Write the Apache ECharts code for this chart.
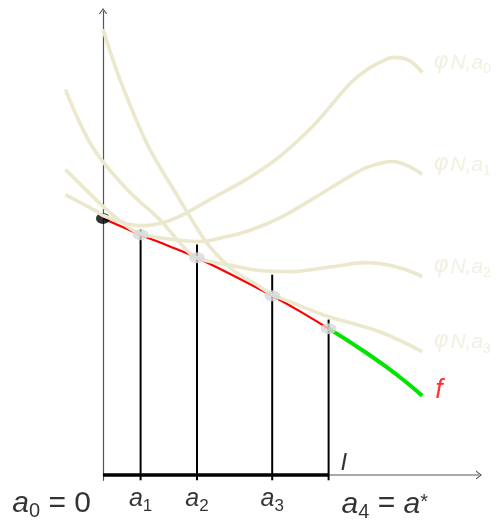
<!DOCTYPE html>
<html>
<head>
<meta charset="utf-8">
<script src="https://cdn.jsdelivr.net/npm/echarts@6.0.0/dist/echarts.min.js"></script>
<style>
html,body{margin:0;padding:0;background:#ffffff;}
#chart{width:500px;height:520px;}
</style>
</head>
<body>
<div id="chart"></div>
<script>
// ---------- values ----------
const aValues = [0, 1, 2.5, 4.5, 6];            // a0 .. a4 on the x axis
const fAtA = [6.80, 6.37, 5.76, 4.75, 3.88];     // f(a_k)
const verticalTops = [6.51, 6.11, 5.31, 4.12];   // top of the vertical at a1..a4
const tickLow = -0.14;                           // small tick below the axis
const xAxisEnd = 10;                             // where the x axis arrow sits

const fOnI = [[0,6.80],[1,6.37],[1.75,6.07],[2.5,5.76],[3.5,5.27],[4.5,4.75],[5.25,4.33],[6,3.88]];
const fBeyond = [[6,3.88],[6.5,3.57],[7,3.24],[7.5,2.89],[8,2.51],[8.49,2.10]];

const phiA0 = [[-1,7.43],[-0.16,6.98],[0,6.88],[0.64,6.66],[0.98,6.61],[1.38,6.64],[1.96,6.82],[2.84,7.30],[3.90,7.89],[4.77,8.50],[5.68,9.35],[6.55,10.36],[7.00,10.73],[7.43,10.97],[7.72,11.07],[8.14,10.99],[8.49,10.67]];
const phiA1 = [[-1,8.10],[-0.27,7.38],[0,7.12],[0.64,6.59],[0.98,6.40],[1.51,6.29],[2.57,6.19],[3.29,6.32],[3.90,6.48],[4.77,6.85],[5.68,7.38],[6.55,7.91],[7.00,8.15],[7.43,8.28],[7.72,8.31],[8.14,8.18],[8.49,7.97]];
const phiA2 = [[-1,10.22],[-0.27,8.68],[0.64,7.57],[1.51,6.77],[2.04,6.16],[2.49,5.76],[3.45,5.55],[4.16,5.42],[4.96,5.39],[6.10,5.52],[7.00,5.63],[7.53,5.58],[8.06,5.44],[8.49,5.26]];
const phiA3 = [[0,11.82],[0.45,10.49],[1.19,8.74],[1.96,7.43],[2.44,6.64],[2.84,6.05],[3.45,5.44],[4.08,5.05],[4.51,4.78],[5.23,4.49],[5.99,4.20],[6.55,4.04],[7.43,3.77],[8.49,3.27]];

const phiSubs = ['0', '1', '2', '3'];
const tickTexts = [
  '{ab|a}{sb|0}{mb| = 0}',
  '{as|a}{ss|1}',
  '{as|a}{ss|2}',
  '{as|a}{ss|3}',
  '{ab|a}{sb|4}{mb| = }{ab|a}{st|*}'
];
const intervalText = '{I|I}';
const fText = '{f|f}';

// ---------- styles ----------
const FONT = "'Liberation Sans', Arial, Helvetica, sans-serif";
const BEIGE = '#ece8ce';
const BEIGE_TEXT = '#efecda';
const AXIS = '#555555';
const RICH = {
  ab:{fontSize:30, fontStyle:'italic', fontFamily:FONT, color:'#000'},
  sb:{fontSize:20, fontFamily:FONT, color:'#000', padding:[16,0,0,0]},
  mb:{fontSize:30, fontFamily:FONT, color:'#000'},
  st:{fontSize:20, fontFamily:FONT, color:'#000', padding:[0,0,4,0]},
  as:{fontSize:25, fontStyle:'italic', fontFamily:FONT, color:'#000'},
  ss:{fontSize:17, fontFamily:FONT, color:'#000', padding:[15,0,0,0]},
  p:{fontSize:23, fontStyle:'italic', fontFamily:"'DejaVu Sans', sans-serif", color:BEIGE_TEXT, padding:[0,2,3,0]},
  n:{fontSize:21, fontStyle:'italic', fontFamily:FONT, color:BEIGE_TEXT},
  s:{fontSize:14, fontFamily:FONT, color:BEIGE_TEXT, padding:[12,0,0,0]},
  I:{fontSize:24, fontStyle:'italic', fontFamily:FONT, color:'#000'},
  f:{fontSize:27, fontStyle:'italic', fontFamily:FONT, color:'#ff0000'}
};
const CHEVRON = 'path://M5,0L10,7L8.5,7L5,2.1L1.5,7L0,7Z';

const series = [];

// x axis (from a0 to the arrow)
series.push({
  type:'line', silent:true, clip:false, z:1, symbol:'none', showSymbol:true,
  lineStyle:{color:AXIS, width:1.2}, itemStyle:{color:AXIS},
  data:[[aValues[0], 0], {value:[xAxisEnd, 0], symbol:CHEVRON, symbolSize:[9,6], symbolRotate:-90}]
});
// verticals a1..a4
aValues.slice(1).forEach((a, i) => {
  series.push({
    type:'line', data:[[a, tickLow], [a, verticalTops[i]]], symbol:'none', silent:true,
    clip:false, z:2, lineStyle:{color:'#000', width:2}
  });
});
// thick interval I on the axis
series.push({
  type:'line', data:[[aValues[0], 0], [aValues[aValues.length-1], 0]], symbol:'none', silent:true,
  clip:false, z:3, lineStyle:{color:'#000', width:3.6}
});
// f on I (red) and beyond (green)
series.push({type:'line', data:fOnI, smooth:0.3, symbol:'none', silent:true, clip:false, z:4,
  lineStyle:{color:'#ff0000', width:2.2}});
series.push({type:'line', data:fBeyond, smooth:0.4, symbol:'none', silent:true, clip:false, z:4,
  lineStyle:{color:'#00e400', width:4}});
// black point at a0 (partly under the phi curves)
series.push({type:'scatter', data:[[aValues[0], fAtA[0]]], symbol:'circle', symbolSize:[14,11],
  itemStyle:{color:'#000'}, silent:true, clip:false, z:5});
// phi curves
const phis = [phiA0, phiA1, phiA2, phiA3];
phis.forEach(d => series.push({
  type:'line', data:d, smooth:0.35, symbol:'none', silent:true, clip:false, z:6,
  lineStyle:{color:BEIGE, width:3.6}
}));
// grey points at a1..a4
series.push({type:'scatter', data:aValues.slice(1).map((a, i) => [a, fAtA[i+1]]), symbol:'circle',
  symbolSize:[16,11], itemStyle:{color:'#d8d8d8'}, silent:true, clip:false, z:7});

// labels
const labelItems = [];
tickTexts.forEach((t, i) => {
  let lab;
  if (i === 0) lab = {position:'left', distance:12, offset:[0, 28.5]};
  else if (i === tickTexts.length - 1) lab = {position:'right', distance:13, offset:[0, 29.2]};
  else lab = {position:'inside', offset:[0, 24.3]};
  labelItems.push({value:[aValues[i], 0], label:Object.assign({show:true, formatter:() => t, rich:RICH}, lab)});
});
labelItems.push({value:[aValues[aValues.length-1], 0],
  label:{show:true, position:'right', distance:12, offset:[0, -11.4], formatter:() => intervalText, rich:RICH}});
phis.forEach((d, k) => {
  const last = d[d.length-1];
  labelItems.push({value:[last[0], last[1]],
    label:{show:true, position:'right', distance:11, offset:[0, -9],
      formatter:() => '{p|φ}{n|N,a}{s|' + phiSubs[k] + '}', rich:RICH}});
});
const fLast = fBeyond[fBeyond.length-1];
labelItems.push({value:[fLast[0], fLast[1]],
  label:{show:true, position:'right', distance:13, offset:[0, -5], formatter:() => fText, rich:RICH}});

series.push({type:'scatter', data:labelItems, symbolSize:0, silent:true, clip:false, z:10,
  itemStyle:{color:'rgba(0,0,0,0)'}});

const chart = echarts.init(document.getElementById('chart'), null, {renderer:'canvas'});
chart.setOption({
  animation:false,
  backgroundColor:'#ffffff',
  grid:{left:65.4, right:21, top:11, bottom:39.72},
  xAxis:{type:'value', min:-1, max:10,
    axisLine:{show:false},
    axisTick:{show:false}, axisLabel:{show:false}, splitLine:{show:false}},
  yAxis:{type:'value', min:-0.14, max:12.3,
    axisLine:{show:true, onZero:true, lineStyle:{color:AXIS, width:1.2}, symbol:['none', CHEVRON], symbolSize:[9,6]},
    axisTick:{show:false}, axisLabel:{show:false}, splitLine:{show:false}},
  series:series
});
</script>
</body>
</html>
